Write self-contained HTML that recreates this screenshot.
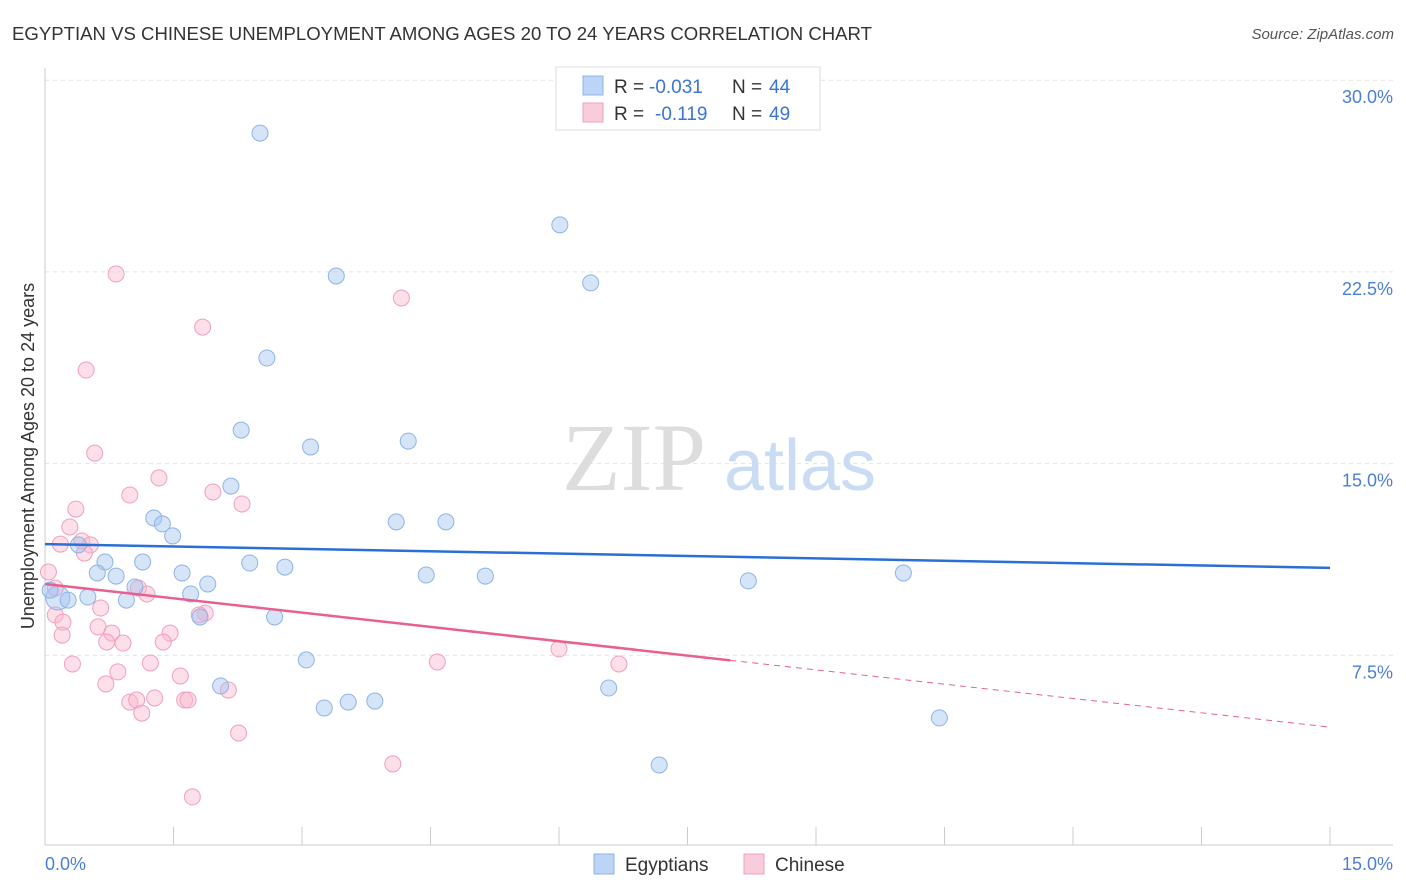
<!DOCTYPE html>
<html><head><meta charset="utf-8">
<style>
body{margin:0;background:#fff;font-family:"Liberation Sans",sans-serif;}
#wrap{position:relative;width:1406px;height:892px;overflow:hidden;}
</style></head>
<body>
<div id="wrap">
<svg id="svg" width="1406" height="892" xmlns="http://www.w3.org/2000/svg">
<text x="12" y="40" font-size="18" fill="#333" textLength="860" lengthAdjust="spacingAndGlyphs">EGYPTIAN VS CHINESE UNEMPLOYMENT AMONG AGES 20 TO 24 YEARS CORRELATION CHART</text>
<text x="1394" y="39" font-size="15" fill="#555" font-style="italic" text-anchor="end">Source: ZipAtlas.com</text>
<text x="34" y="456" font-size="18" fill="#333" text-anchor="middle" transform="rotate(-90 34 456)">Unemployment Among Ages 20 to 24 years</text>
<g id="grid"></g>
<g>
<text x="634" y="490" font-size="96" fill="#ddd" font-family="Liberation Serif,serif" text-anchor="middle">ZIP</text>
<text x="800" y="490" font-size="72" fill="#c9dcf3" text-anchor="middle">atlas</text>
</g>
<line x1="45" y1="68" x2="45" y2="845" stroke="#ccc"/>
<line x1="45" y1="845" x2="1393" y2="845" stroke="#ccc"/>
<g id="xticks"></g>
<text x="45" y="870" font-size="18" fill="#4a7fd4">0.0%</text>
<text x="1393" y="870" font-size="18" fill="#4a7fd4" text-anchor="end">15.0%</text>
<g id="pts"></g>
<g id="trends"></g>
<g font-size="19">
<rect x="556" y="67" width="264" height="63" fill="#fff" stroke="#ddd"/>
<rect x="583" y="76" width="20" height="19" fill="#bcd4f5" stroke="#8db4e8"/>
<rect x="583" y="103" width="20" height="19" fill="#f9ccdb" stroke="#f0a0bc"/>
<text x="614" y="93" fill="#333">R =</text>
<text x="649" y="93" fill="#3a74d4">-0.031</text>
<text x="732" y="93" fill="#333">N =</text>
<text x="769" y="93" fill="#3a74d4">44</text>
<text x="614" y="120" fill="#333">R =</text>
<text x="655" y="120" fill="#3a74d4">-0.119</text>
<text x="732" y="120" fill="#333">N =</text>
<text x="769" y="120" fill="#3a74d4">49</text>
</g>
<g>
<rect x="594" y="854" width="20" height="20" fill="#bcd4f5" stroke="#8db4e8"/>
<text x="625" y="871" font-size="19" fill="#333">Egyptians</text>
<rect x="744" y="854" width="20" height="20" fill="#f9ccdb" stroke="#f0a0bc"/>
<text x="775" y="871" font-size="19" fill="#333">Chinese</text>
</g>
</svg>
</div>
<script>
const yTicks=[7.5,15,22.5,30];
const yTickLabels=["7.5%","15.0%","22.5%","30.0%"];
const xTickVals=[0,1.5,3,4.5,6,7.5,9,10.5,12,13.5,15];
const egyX=[2.51,6.01,3.40,6.37,2.59,2.29,3.10,4.24,2.17,1.27,1.37,1.49,4.10,4.68,0.70,1.14,0.61,0.83,1.60,2.39,2.80,4.45,5.14,8.21,10.02,1.05,1.90,1.70,0.15,0.27,0.50,0.95,1.81,2.68,3.05,2.05,6.58,3.54,3.85,3.26,10.44,7.17,0.06,0.39];
const egyY=[27.93,24.34,22.34,22.07,19.13,16.31,15.65,15.88,14.12,12.87,12.64,12.17,12.72,12.72,11.15,11.15,10.72,10.60,10.72,11.11,10.95,10.64,10.60,10.41,10.72,10.17,10.29,9.90,9.74,9.66,9.78,9.66,9.00,9.00,7.32,6.30,6.22,5.67,5.71,5.44,5.05,3.21,10.05,11.82];
const chiX=[0.83,4.16,1.84,0.48,0.58,1.33,0.99,1.96,2.30,0.36,0.29,0.43,0.18,0.53,0.46,0.04,0.12,1.09,1.19,0.65,0.12,1.87,1.80,0.21,0.62,0.78,1.46,0.20,0.72,0.91,1.38,1.23,0.32,4.58,6.00,6.70,0.85,1.58,0.71,2.14,1.28,0.99,1.07,1.63,1.67,1.13,2.26,4.06,1.72];
const chiY=[22.42,21.48,20.34,18.66,15.41,14.44,13.77,13.89,13.42,13.22,12.52,11.97,11.85,11.82,11.50,10.76,10.13,10.13,9.90,9.35,9.08,9.15,9.08,8.80,8.61,8.37,8.37,8.29,8.02,7.98,8.02,7.20,7.16,7.24,7.75,7.16,6.85,6.69,6.38,6.14,5.83,5.67,5.75,5.75,5.75,5.24,4.46,3.25,1.96];
const egyTrend=[11.85,10.92];
const chiTrend=[10.29,4.69];
const chiSolidEnd=8.0;

const NS="http://www.w3.org/2000/svg";
const sx=v=>45+v*(1285/15);
const sy=v=>847-v*(191.7/7.5);
function mk(tag,attrs,parent){const e=document.createElementNS(NS,tag);for(const k in attrs)e.setAttribute(k,attrs[k]);parent.appendChild(e);return e;}
const grid=document.getElementById('grid');
yTicks.forEach((t,i)=>{
  const l=mk('line',{x1:45,x2:1393,y1:sy(t),y2:sy(t),stroke:'#e2e2e2','stroke-dasharray':'4,4'},grid);
  
  
  const tx=mk('text',{x:1393,y:sy(t)+23,'font-size':18,fill:'#4a7fd4','text-anchor':'end'},grid);
  tx.textContent=yTickLabels[i];
  
  
});
const xt=document.getElementById('xticks');
xTickVals.forEach(v=>{
  const l=mk('line',{x1:sx(v),x2:sx(v),y1:827,y2:845,stroke:'#ccc'},xt);
  
  
});
const pts=document.getElementById('pts');
chiX.forEach((x,i)=>{
  const c=mk('circle',{cx:sx(x),cy:sy(chiY[i]),r:8,fill:'rgba(248,184,204,0.45)',stroke:'#f0a0bc','stroke-width':1},pts);
  
  
});
egyX.forEach((x,i)=>{
  const c=mk('circle',{cx:sx(x),cy:sy(egyY[i]),r:(i==28?12:8),fill:'rgba(164,196,240,0.45)',stroke:'#8db4e8','stroke-width':1},pts);
  
  
});
const tr=document.getElementById('trends');
const b=mk('line',{x1:sx(0),y1:sy(egyTrend[0]),x2:sx(15),y2:sy(egyTrend[1]),stroke:'#2a6fd6','stroke-width':2.5},tr);


const pe=chiTrend[0]+(chiTrend[1]-chiTrend[0])*chiSolidEnd/15;
const p1=mk('line',{x1:sx(0),y1:sy(chiTrend[0]),x2:sx(chiSolidEnd),y2:sy(pe),stroke:'#e8608f','stroke-width':2.5},tr);


const p2=mk('line',{x1:sx(chiSolidEnd),y1:sy(pe),x2:sx(15),y2:sy(chiTrend[1]),stroke:'#e8608f','stroke-width':1,'stroke-dasharray':'6,5'},tr);


</script>
</body></html>
